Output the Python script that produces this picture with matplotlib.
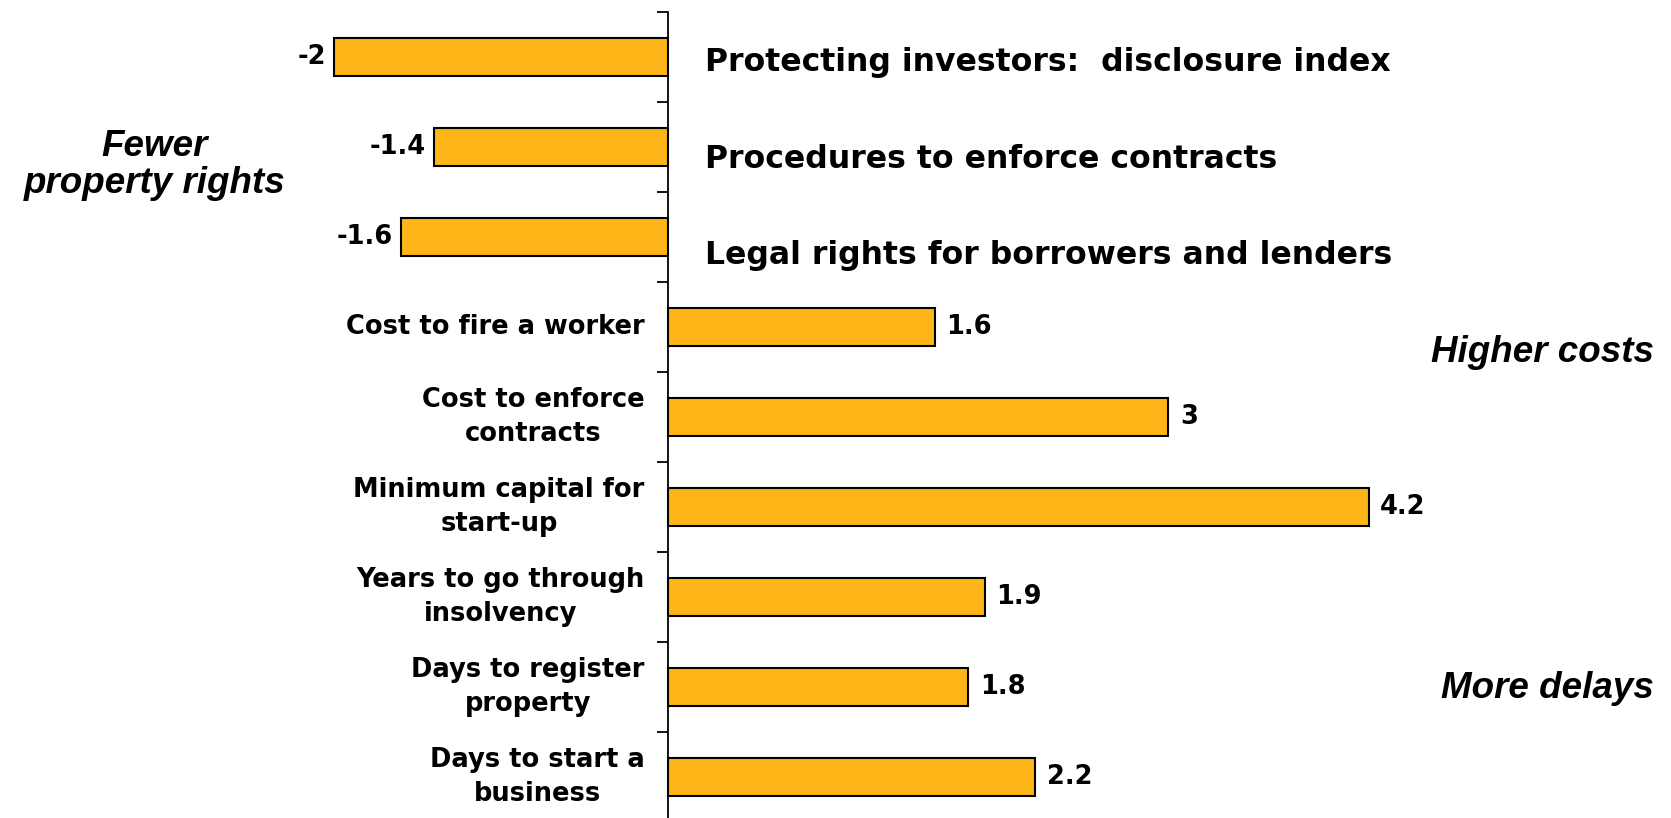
import matplotlib.pyplot as plt
import numpy as np

# indicators, top to bottom
labels = ['Protecting investors:  disclosure index',
          'Procedures to enforce contracts',
          'Legal rights for borrowers and lenders',
          'Cost to fire a worker',
          'Cost to enforce\ncontracts',
          'Minimum capital for\nstart-up',
          'Years to go through\ninsolvency',
          'Days to register\nproperty',
          'Days to start a\nbusiness']
values = [-2, -1.4, -1.6, 1.6, 3, 4.2, 1.9, 1.8, 2.2]
value_text = ['-2', '-1.4', '-1.6', '1.6', '3', '4.2', '1.9', '1.8', '2.2']

bar_color = '#FDB517'

fig = plt.figure(figsize=(16.71, 8.18), dpi=100)
ax = fig.add_axes([0.0, -4/818, 1.0, 1 - 8/818])

y = np.arange(len(values))
ax.barh(y, values, height=0.42, color=bar_color, edgecolor='black', linewidth=1.5)

ax.set_xlim(-668/166.8, (1671-668)/166.8)
ax.set_ylim(len(values) - 0.5, -0.5)

# only the zero line with ticks between categories
for s in ['top', 'right', 'bottom']:
    ax.spines[s].set_visible(False)
ax.spines['left'].set_position(('data', 0))
ax.spines['left'].set_linewidth(1.3)
ax.set_yticks(np.arange(-0.5, len(values), 1))
ax.set_yticklabels([])
ax.tick_params(axis='y', length=8, width=1.3, direction='out')
ax.set_xticks([])

fs = 18.5
# label nudges for the negative-bar captions (lower than bar centre)
cap_shift = [0.06, 0.14, 0.21]
for i, (v, lab, vt) in enumerate(zip(values, labels, value_text)):
    if v < 0:
        ax.text(v - 0.05, i, vt, ha='right', va='center',
                fontsize=fs, fontweight='bold')
        ax.text(0.22, i + cap_shift[i], lab, ha='left', va='center',
                fontsize=22.7, fontweight='bold')
    else:
        ax.text(v + 0.07, i, vt, ha='left', va='center',
                fontsize=fs, fontweight='bold')
        ax.text(-0.14, i, lab, ha='right', va='center', multialignment='center',
                fontsize=fs, fontweight='bold', linespacing=1.38)

# group notes
note = dict(transform=fig.transFigure, va='center', fontsize=26.5,
            style='italic', fontweight='bold', family='Liberation Sans')
ax.text(155/1671, 1 - 165/818, 'Fewer\nproperty rights', ha='center',
        linespacing=1.1, **note)
ax.text(1654/1671, 1 - 353/818, 'Higher costs', ha='right', **note)
ax.text(1654/1671, 1 - 688/818, 'More delays', ha='right', **note)

fig.savefig('out.png', dpi=100)
